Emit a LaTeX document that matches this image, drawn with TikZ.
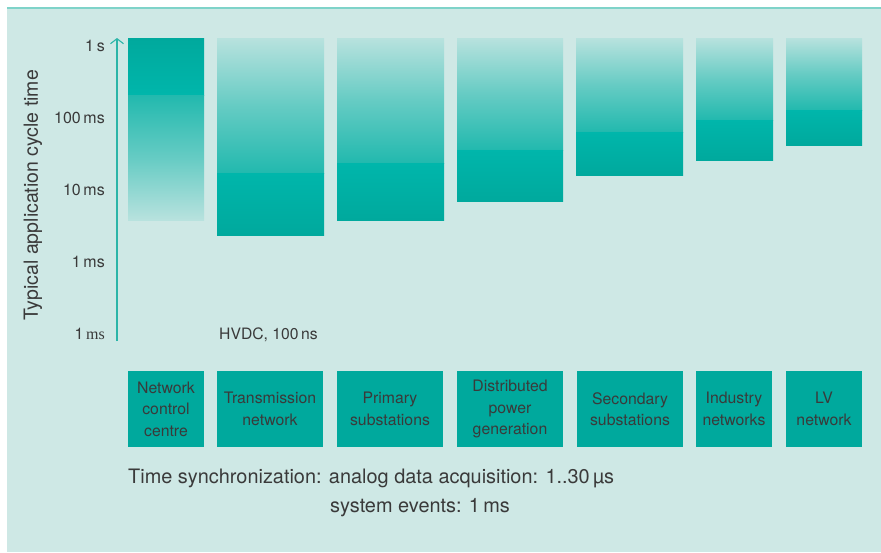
\documentclass[tikz,border=0pt]{standalone}
\usepackage{fontspec}
\setmainfont{TeX Gyre Heros}
\newfontfamily\altserif{Liberation Serif}
\usetikzlibrary{arrows.meta}
\definecolor{bg}{HTML}{CEE8E5}
\definecolor{topline}{HTML}{7FD3C9}
\definecolor{tealdark}{HTML}{00A99D}
\definecolor{tealmid}{HTML}{00B6AB}
\definecolor{teallight}{HTML}{B8E2DE}
\definecolor{tealfade}{HTML}{22B9AE}
\definecolor{axiscol}{HTML}{2BB5A8}
\definecolor{txt}{HTML}{3A3A3A}
\tikzset{
  catbox/.style={fill=tealdark, text=txt, minimum height=76pt, inner sep=0pt, align=center,
    font=\fontsize{15.8}{21.5}\selectfont},
  ticklbl/.style={anchor=east, text=txt, inner sep=0pt, font=\fontsize{16}{18}\selectfont},
  fadeup/.style={top color=teallight, bottom color=tealfade, middle color=teallight!45!tealfade},
  darkbottom/.style={top color=tealmid, bottom color=tealdark},
  axisline/.style={draw=axiscol, line width=1.1pt, -{Straight Barb[length=5pt,width=13pt]}},
}
\newcommand\cyclebar[4]{%
  \shade[fadeup] (#1,38) rectangle (#2,#4);
  \shade[darkbottom] (#1,#4) rectangle (#2,#3);
}
\begin{document}
\begin{tikzpicture}[x=1pt,y=-1pt]
\useasboundingbox (0,0) rectangle (881,552);
\fill[white] (0,0) rectangle (881,552);
\fill[bg] (7,8) rectangle (881,552);
\draw[topline, line width=1.5pt] (7,8) -- (881,8);

% axis
\coordinate (axbot) at (117,341);
\coordinate (axtop) at (117,38);
\draw[axisline] (axbot) -- (axtop);
\node[rotate=90, text=txt, font=\fontsize{19.5}{21}\selectfont] (ytitle) at (33,195) {Typical application cycle time};
\node[ticklbl] (t1) at (105,46) {1\,s};
\node[ticklbl] (t2) at (105,118) {100\,ms};
\node[ticklbl] (t3) at (105,190) {10\,ms};
\node[ticklbl] (t4) at (105,262) {1\,ms};
\node[ticklbl] (t5) at (105,334) {1\,{\altserif ms}};

% bar 1 (inverted)
\shade[top color=tealdark, bottom color=tealmid] (128,38) rectangle (204,95);
\shade[top color=tealfade, bottom color=teallight, middle color=teallight!45!tealfade] (128,95) rectangle (204,220);
% other bars
\cyclebar{217}{324}{235}{173}
\cyclebar{337}{444}{220}{163}
\cyclebar{457}{563}{201}{150}
\cyclebar{576}{683}{175}{132}
\cyclebar{696}{773}{160}{120}
\cyclebar{786}{862}{145}{110}

\node[anchor=west, text=txt, inner sep=0pt, font=\fontsize{15.7}{17}\selectfont] (hvdc) at (219,335) {HVDC, 100\,ns};

% category boxes
\node[catbox, minimum width=76pt] (b1) at (166,409) {Network\\control\\centre};
\node[catbox, minimum width=106pt] (b2) at (270,409) {Transmission\\network};
\node[catbox, minimum width=106pt] (b3) at (390,409) {Primary\\substations};
\node[catbox, minimum width=106pt] (b4) at (510,409) {Distributed\\power\\generation};
\node[catbox, minimum width=106pt] (b5) at (630,409) {Secondary\\substations};
\node[catbox, minimum width=76pt] (b6) at (734,409) {Industry\\networks};
\node[catbox, minimum width=76pt] (b7) at (824,409) {LV\\network};

\node[anchor=west, text=txt, inner sep=0pt, font=\fontsize{19.9}{22}\selectfont] (sync1) at (128,478) {Time synchronization: analog data acquisition: 1..30\,µs};
\node[anchor=west, text=txt, inner sep=0pt, font=\fontsize{19.9}{22}\selectfont] (sync2) at (330,508) {system events: 1\,ms};
\end{tikzpicture}
\end{document}
